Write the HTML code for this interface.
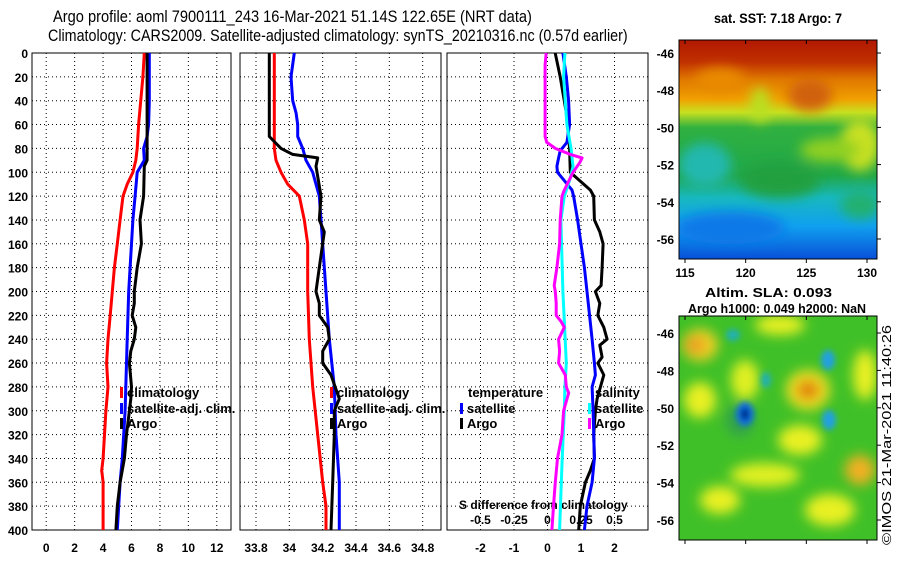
<!DOCTYPE html>
<html><head><meta charset="utf-8"><style>
html,body{margin:0;padding:0;background:#fff}
svg{display:block;font-family:"Liberation Sans",sans-serif}
</style></head><body>
<svg id="chart" width="900" height="580" viewBox="0 0 900 580" xmlns="http://www.w3.org/2000/svg">
<defs>
<linearGradient id="sstg" x1="0" y1="0" x2="0" y2="1">
<stop offset="0" stop-color="#b01800"/><stop offset="0.1" stop-color="#c03000"/><stop offset="0.18" stop-color="#e07800"/><stop offset="0.27" stop-color="#f0a000"/><stop offset="0.33" stop-color="#c8e020"/><stop offset="0.4" stop-color="#30b040"/><stop offset="0.62" stop-color="#20a848"/><stop offset="0.72" stop-color="#18b8c0"/><stop offset="0.85" stop-color="#10a0f0"/><stop offset="1" stop-color="#0850d8"/>
</linearGradient>
<filter id="blur6"><feGaussianBlur stdDeviation="6"/></filter>
<filter id="blur3"><feGaussianBlur stdDeviation="3"/></filter>
<clipPath id="sstclip"><rect x="679" y="40" width="198" height="219"/></clipPath>
<clipPath id="slaclip"><rect x="679" y="316" width="198" height="224"/></clipPath>
</defs>
<g id="titles" font-weight="bold" font-size="16">
<g transform="translate(53,22)"><text id="t1" x="0" y="0" font-weight="normal" font-size="17">Argo profile: aoml 7900111_243 16-Mar-2021 51.14S 122.65E (NRT data)</text></g>
<g transform="translate(48,41)"><text id="t2" x="0" y="0" font-weight="normal" font-size="17">Climatology: CARS2009. Satellite-adjusted climatology: synTS_20210316.nc (0.57d earlier)</text></g>
<text x="714" y="23" textLength="128" lengthAdjust="spacingAndGlyphs" font-size="14">sat. SST: 7.18 Argo: 7</text>
<text x="705" y="297" font-size="13" textLength="127" lengthAdjust="spacingAndGlyphs">Altim. SLA: 0.093</text>
<text x="688" y="313" font-size="13" textLength="178" lengthAdjust="spacingAndGlyphs">Argo h1000: 0.049 h2000: NaN</text>
<text transform="translate(891,545) rotate(-90)" font-weight="normal" font-size="13" textLength="220" lengthAdjust="spacingAndGlyphs">©IMOS 21-Mar-2021 11:40:26</text>
</g>
<g id="maps">
<g clip-path="url(#sstclip)">
<rect x="679" y="40" width="198" height="219" fill="url(#sstg)"/>
<g filter="url(#blur6)">
<ellipse cx="720" cy="80" rx="25" ry="12" fill="#e88a00"/>
<ellipse cx="810" cy="95" rx="22" ry="16" fill="#d06010"/>
<ellipse cx="760" cy="105" rx="10" ry="18" fill="#b8e020"/>
<ellipse cx="860" cy="145" rx="20" ry="26" fill="#c8e020"/>
<ellipse cx="830" cy="150" rx="30" ry="12" fill="#90d020"/>
<ellipse cx="705" cy="165" rx="26" ry="22" fill="#20b8b0"/>
<ellipse cx="780" cy="180" rx="40" ry="18" fill="#20a040"/>
<ellipse cx="860" cy="205" rx="20" ry="14" fill="#20b070"/>
<ellipse cx="730" cy="228" rx="55" ry="16" fill="#1078e8"/>
</g>
</g>
<g clip-path="url(#slaclip)">
<rect x="679" y="316" width="198" height="224" fill="#40c028"/>
<g filter="url(#blur6)">
<ellipse cx="700" cy="345" rx="18" ry="16" fill="#f0d020"/>
<ellipse cx="695" cy="345" rx="10" ry="8" fill="#e89820"/>
<ellipse cx="780" cy="325" rx="25" ry="10" fill="#e8f020"/>
<ellipse cx="745" cy="380" rx="14" ry="20" fill="#e0f020"/>
<ellipse cx="700" cy="400" rx="16" ry="18" fill="#e8f020"/>
<ellipse cx="808" cy="390" rx="22" ry="20" fill="#f0e020"/>
<ellipse cx="808" cy="390" rx="12" ry="10" fill="#e08010"/>
<ellipse cx="865" cy="375" rx="12" ry="25" fill="#e8f020"/>
<ellipse cx="800" cy="440" rx="22" ry="15" fill="#e8f020"/>
<ellipse cx="860" cy="470" rx="15" ry="15" fill="#f0b020"/>
<ellipse cx="765" cy="475" rx="35" ry="12" fill="#e0f020"/>
<ellipse cx="720" cy="500" rx="20" ry="14" fill="#e8f020"/>
<ellipse cx="830" cy="510" rx="25" ry="16" fill="#e8f020"/>
<ellipse cx="740" cy="420" rx="14" ry="16" fill="#30a050"/>
</g>
<g filter="url(#blur3)">
<ellipse cx="745" cy="414" rx="9" ry="12" fill="#1070e0"/>
<ellipse cx="745" cy="414" rx="4" ry="6" fill="#002080"/>
<ellipse cx="828" cy="360" rx="7" ry="10" fill="#20a0e0"/>
<ellipse cx="829" cy="420" rx="7" ry="10" fill="#20a0e0"/>
<ellipse cx="733" cy="335" rx="7" ry="6" fill="#20b0b0"/>
<ellipse cx="766" cy="380" rx="5" ry="8" fill="#20b0b0"/>
</g>
</g>
<rect x="679" y="40" width="198" height="219" fill="none" stroke="#000" stroke-width="1"/>
<rect x="679" y="316" width="198" height="224" fill="none" stroke="#000" stroke-width="1"/>
</g>
<g id="axes"></g>
<g id="series"></g>
<g id="legends" font-weight="bold" font-size="13"></g>
</svg>
<script>
// ---------- data ----------
var depthTicks = [0,20,40,60,80,100,120,140,160,180,200,220,240,260,280,300,320,340,360,380,400];
var tempTicks = [0,2,4,6,8,10,12];
var salTicks = [33.8,34,34.2,34.4,34.6,34.8];
var salTickLabels = ["33.8","34","34.2","34.4","34.6","34.8"];
var diffTicks = [-2,-1,0,1,2];
var sdiffTicks = [-0.5,-0.25,0,0.25,0.5];
var sdiffTickLabels = ["-0.5","-0.25","0","0.25","0.5"];
var latTicks = [-46,-48,-50,-52,-54,-56];
var lonTicks = [115,120,125,130];

var climTDepth = [0,20,60,80,90,100,110,120,140,160,180,200,220,240,260,280,300,320,340,350,360,400];
var climTVal =   [6.9,6.8,6.5,6.4,6.3,6.1,5.7,5.4,5.2,5.0,4.8,4.65,4.5,4.35,4.25,4.35,4.2,4.1,4.0,3.9,4.0,4.0];
var satTDepth = [0,40,60,70,80,90,100,120,140,160,180,200,240,260,300,320,340,360,380,400];
var satTVal =   [7.25,7.25,7.2,7.1,6.85,6.9,6.4,6.25,6.1,6.0,5.9,5.8,5.7,5.65,5.55,5.45,5.35,5.2,5.1,5.0];
var argoTDepth = [0,80,90,95,120,140,160,180,200,210,220,230,240,250,260,280,290,300,320,340,360,380,400];
var argoTVal =   [7.1,7.1,7.1,6.9,6.85,6.6,6.7,6.4,6.2,6.2,6.05,6.3,6.2,5.95,5.85,6.0,5.95,5.85,5.65,5.5,5.2,5.0,4.9];

var climSDepth = [0,20,40,80,90,100,110,120,140,160,200,240,280,320,360,380,400];
var climSVal =   [33.91,33.91,33.91,33.91,33.92,33.95,33.99,34.06,34.09,34.11,34.11,34.12,34.14,34.17,34.2,34.22,34.22];
var satSDepth = [0,20,40,50,60,70,80,90,100,120,140,200,240,280,320,360,400];
var satSVal =   [34.03,34.01,34.02,34.04,34.05,34.05,34.08,34.1,34.14,34.18,34.19,34.22,34.24,34.27,34.28,34.3,34.3];
var argoSDepth = [0,70,80,85,88,95,120,140,150,180,200,210,220,230,240,250,260,270,290,300,320,360,400];
var argoSVal =   [33.88,33.88,33.95,34.02,34.17,34.16,34.19,34.18,34.21,34.18,34.16,34.18,34.18,34.23,34.24,34.2,34.2,34.25,34.3,34.27,34.27,34.26,34.25];

var dTsatDepth = [0,20,40,60,75,82,88,95,100,108,115,120,140,160,180,200,240,260,270,280,300,340,360,380,400];
var dTsatVal =   [0.46,0.56,0.63,0.66,0.58,0.38,0.33,0.28,0.3,0.53,0.73,0.78,0.9,1.0,1.1,1.18,1.33,1.4,1.43,1.33,1.36,1.4,1.33,1.18,1.1];
var dTargoDepth = [0,20,50,80,100,105,115,120,140,150,160,180,195,200,210,220,230,240,245,255,260,270,290,300,320,340,350,360,380,400];
var dTargoVal =   [0.23,0.38,0.56,0.66,0.68,0.88,1.28,1.38,1.4,1.56,1.66,1.63,1.6,1.43,1.56,1.5,1.68,1.78,1.56,1.63,1.5,1.68,1.48,1.43,1.38,1.4,1.28,1.13,0.98,0.93];
var dSsatDepth = [0,20,60,80,95,105,120,140,200,260,280,300,340,400];
var dSsatVal =   [0.13,0.12,0.145,0.175,0.19,0.17,0.125,0.1,0.115,0.14,0.13,0.125,0.11,0.09];
var dSargoDepth = [0,10,70,75,80,85,88,92,100,115,120,140,160,180,195,200,210,220,225,230,240,250,260,270,280,285,300,320,340,360,380,400];
var dSargoVal =   [-0.01,-0.018,-0.018,-0.005,0.058,0.17,0.258,0.24,0.19,0.125,0.108,0.095,0.09,0.07,0.05,0.058,0.065,0.065,0.1,0.125,0.083,0.09,0.083,0.133,0.14,0.158,0.12,0.108,0.075,0.058,0.045,0.033];

// fit condensed titles
function fitTitle(id, w){
  var t = document.getElementById(id);
  var len = t.getComputedTextLength();
  if (len > 0) t.setAttribute('transform', 'scale(' + (w/len).toFixed(4) + ',1)');
}
fitTitle('t1', 479);
fitTitle('t2', 580);

// ---------- geometry ----------
var NS = "http://www.w3.org/2000/svg";
var Y0 = 53, Y1 = 530;
function yD(d){ return Y0 + d*(Y1-Y0)/400; }
var P1 = {x0:32, x1:231, min:-1, max:13};
var P2 = {x0:240, x1:441, min:33.704, max:34.91};
var P3 = {x0:447, x1:648, min:-3, max:3};
function xs(p, v){ return p.x0 + (v-p.min)*(p.x1-p.x0)/(p.max-p.min); }
function mk(tag, attrs, parent){
  var e = document.createElementNS(NS, tag);
  for (var k in attrs) e.setAttribute(k, attrs[k]);
  parent.appendChild(e); return e;
}
var axes = document.getElementById('axes');
var series = document.getElementById('series');
var legends = document.getElementById('legends');

function panel(p, ticks, labels, name){
  var g = mk('g', {}, axes);
  
  
  depthTicks.forEach(function(d){
    var l = mk('line', {x1:p.x0, x2:p.x1, y1:yD(d), y2:yD(d), stroke:'#000', 'stroke-width':1, 'stroke-dasharray':'1,3'}, g);
    
    
  });
  ticks.forEach(function(v, i){
    var x = xs(p, v);
    var l = mk('line', {x1:x, x2:x, y1:Y0, y2:Y1, stroke:'#000', 'stroke-width':1, 'stroke-dasharray':'1,3'}, g);
    
    
    var t = mk('text', {x:x, y:Y1+22, 'text-anchor':'middle', 'font-size':12, 'font-weight':'bold'}, g);
    t.textContent = labels[i];
    
    
  });
  var r = mk('rect', {x:p.x0, y:Y0, width:p.x1-p.x0, height:Y1-Y0, fill:'none', stroke:'#000', 'stroke-width':1}, g);
  
  
}
panel(P1, tempTicks, tempTicks.map(String), 'temperature-panel');
panel(P2, salTicks, salTickLabels, 'salinity-panel');
panel(P3, diffTicks, diffTicks.map(String), 'difference-panel');

depthTicks.forEach(function(d){
  var t = mk('text', {x:28, y:yD(d)+5, 'text-anchor':'end', 'font-size':12, 'font-weight':'bold'}, axes);
  t.textContent = String(d);
  
  
});

sdiffTicks.forEach(function(v, i){
  var t = mk('text', {x:xs(P3, v*4), y:Y1-6, 'text-anchor':'middle', 'font-size':12, 'font-weight':'bold'}, axes);
  t.textContent = sdiffTickLabels[i];
  
  
});
var sdt = mk('text', {x:459, y:Y1-6-15, 'font-size':12, 'font-weight':'bold'}, axes);
sdt.textContent = 'S difference from climatology';



var SST = {y46:53, y56:239};
var SLA = {y46:333, y56:520};
function latY(m, v){ return m.y46 + (v+46)*(m.y56-m.y46)/(-10); }
function lonX(v){ return 685 + (v-115)*(867-685)/15; }
[SST, SLA].forEach(function(m, k){
  latTicks.forEach(function(v){
    var y = latY(m, v);
    var t = mk('text', {x:674, y:y+5, 'text-anchor':'end', 'font-size':12, 'font-weight':'bold'}, axes);
    t.textContent = String(v);
    
    
    mk('line', {x1:877, x2:881, y1:y, y2:y, stroke:'#000'}, axes);
  });
  lonTicks.forEach(function(v){
    var x = lonX(v);
    var yb = k==0 ? 259 : 540;
    mk('line', {x1:x, x2:x, y1:yb, y2:yb+4, stroke:'#000'}, axes);
    mk('line', {x1:x, x2:x, y1:(k==0?40:316), y2:(k==0?44:320), stroke:'#000'}, axes);
    if (k==0){
      var t = mk('text', {x:x, y:277, 'text-anchor':'middle', 'font-size':12, 'font-weight':'bold'}, axes);
      t.textContent = String(v);
      
      
    }
  });
});

function line(p, depths, vals, color, name, scale){
  var s = scale || 1;
  var pts = depths.map(function(d, i){ return xs(p, vals[i]*s).toFixed(1) + ',' + yD(d).toFixed(1); }).join(' ');
  var e = mk('polyline', {points:pts, fill:'none', stroke:color, 'stroke-width':3, 'stroke-linejoin':'round'}, series);
  
  
}
line(P1, climTDepth, climTVal, '#ff0000', 'temp-climatology-line');
line(P1, satTDepth, satTVal, '#0000ff', 'temp-satellite-line');
line(P1, argoTDepth, argoTVal, '#000000', 'temp-argo-line');
line(P2, climSDepth, climSVal, '#ff0000', 'sal-climatology-line');
line(P2, satSDepth, satSVal, '#0000ff', 'sal-satellite-line');
line(P2, argoSDepth, argoSVal, '#000000', 'sal-argo-line');
line(P3, dTargoDepth, dTargoVal, '#000000', 'temp-diff-argo-line');
line(P3, dTsatDepth, dTsatVal, '#0000ff', 'temp-diff-satellite-line');
line(P3, dSsatDepth, dSsatVal, '#00ffff', 'sal-diff-satellite-line', 4);
line(P3, dSargoDepth, dSargoVal, '#ff00ff', 'sal-diff-argo-line', 4);

function legendEntry(x, y, color, label){
  var r = mk('rect', {x:x-1, y:y-10, width:3, height:11, fill:color}, legends);
  
  
  var t = mk('text', {x:x+6, y:y}, legends);
  t.textContent = label;
  
  
}
var legY = [397, 413, 428];
legendEntry(121, legY[0], '#ff0000', 'climatology');
legendEntry(121, legY[1], '#0000ff', 'satellite-adj. clim.');
legendEntry(121, legY[2], '#000000', 'Argo');
legendEntry(331, legY[0], '#ff0000', 'climatology');
legendEntry(331, legY[1], '#0000ff', 'satellite-adj. clim.');
legendEntry(331, legY[2], '#000000', 'Argo');
var tt = mk('text', {x:468, y:legY[0]}, legends);
tt.textContent = 'temperature';


legendEntry(461, legY[1], '#0000ff', 'satellite');
legendEntry(461, legY[2], '#000000', 'Argo');
var st = mk('text', {x:595, y:legY[0]}, legends);
st.textContent = 'salinity';


legendEntry(589, legY[1], '#00ffff', 'satellite');
legendEntry(589, legY[2], '#ff00ff', 'Argo');
</script>
</body></html>
